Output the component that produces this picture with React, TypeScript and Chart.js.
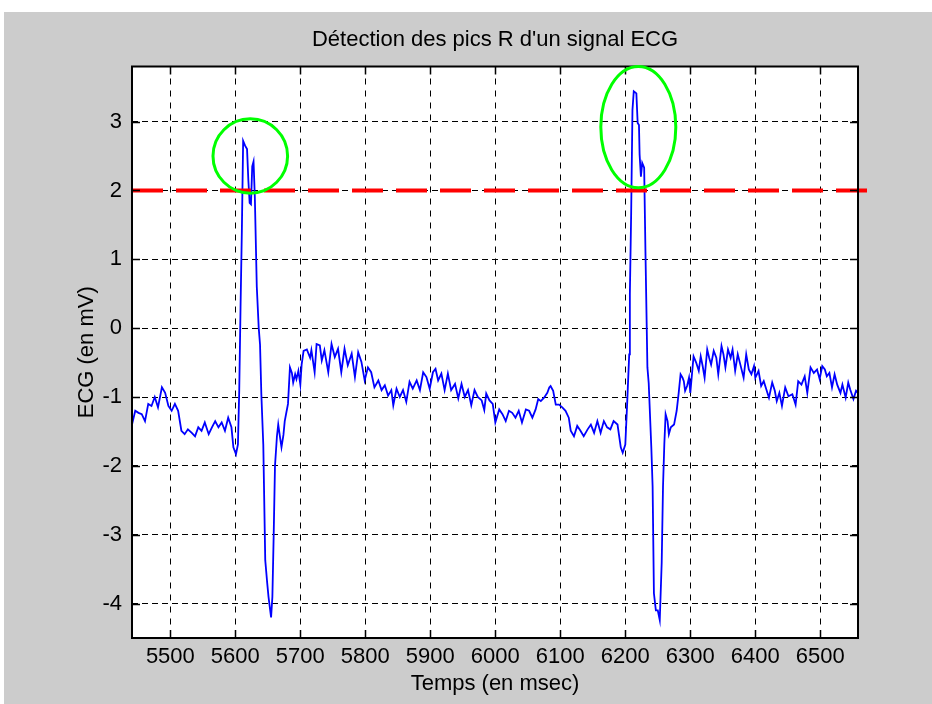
import { useEffect, useRef } from "react";
import { Chart, registerables } from "chart.js";

Chart.register(...registerables);

// ECG trace: sample times (ms) and amplitudes (mV)
const timeMs = [
  5441, 5446, 5451, 5456, 5461, 5466, 5471, 5476, 5481, 5487, 5492, 5497, 5502, 5507, 5512, 5517,
  5522, 5527, 5533, 5538, 5543, 5548, 5553, 5559, 5564, 5569, 5574, 5579, 5584, 5589, 5594, 5597,
  5601, 5604, 5606, 5608, 5610, 5612, 5615, 5618, 5620, 5622, 5624, 5626, 5628, 5630, 5633, 5636,
  5638, 5640, 5643, 5646, 5649, 5651, 5653, 5655, 5657, 5659, 5661, 5664, 5666, 5669, 5671, 5674,
  5676, 5679, 5681, 5684, 5687, 5689, 5692, 5694, 5697, 5700, 5702, 5705, 5710, 5715, 5717, 5722,
  5725, 5730, 5733, 5737, 5743, 5748, 5753, 5758, 5763, 5768, 5773, 5779, 5784, 5789, 5794, 5799,
  5804, 5809, 5814, 5820, 5825, 5830, 5835, 5840, 5843, 5848, 5853, 5858, 5863, 5868, 5873, 5879,
  5884, 5889, 5894, 5899, 5904, 5908, 5912, 5917, 5922, 5927, 5932, 5938, 5943, 5948, 5953, 5958,
  5963, 5968, 5973, 5979, 5983, 5986, 5991, 5996, 6000, 6006, 6011, 6016, 6021, 6026, 6031, 6036,
  6041, 6047, 6052, 6057, 6062, 6066, 6070, 6075, 6080, 6083, 6085, 6089, 6093, 6098, 6103, 6108,
  6113, 6116, 6121, 6126, 6131, 6136, 6142, 6147, 6152, 6157, 6162, 6167, 6172, 6177, 6182, 6188,
  6193, 6196, 6200, 6203, 6206, 6207, 6209, 6211, 6213, 6217, 6219, 6221, 6222, 6224, 6226, 6229,
  6231, 6234, 6236, 6240, 6242, 6244, 6247, 6250, 6253, 6256, 6258, 6260, 6262, 6265, 6267, 6270,
  6275, 6279, 6282, 6285, 6288, 6290, 6292, 6295, 6298, 6300, 6303, 6305, 6309, 6313, 6316, 6319,
  6322, 6326, 6329, 6332, 6336, 6340, 6343, 6348, 6351, 6354, 6358, 6362, 6365, 6369, 6373, 6377,
  6382, 6386, 6390, 6394, 6398, 6400, 6405, 6409, 6413, 6417, 6421, 6426, 6430, 6433, 6437, 6441,
  6446, 6451, 6457, 6462, 6466, 6471, 6476, 6480, 6485, 6490, 6495, 6499, 6503, 6507, 6510, 6514,
  6518, 6522, 6526, 6531, 6534, 6539, 6543, 6546, 6551, 6555, 6558,
];

const ecgMv = [
  -1.40, -1.20, -1.23, -1.25, -1.35, -1.10, -1.13, -1.00, -1.15, -0.86, -0.94, -1.13, -1.20, -1.10, -1.20, -1.49,
  -1.54, -1.47, -1.52, -1.57, -1.44, -1.49, -1.37, -1.54, -1.44, -1.35, -1.44, -1.37, -1.49, -1.30, -1.44, -1.73,
  -1.83, -1.69, -0.90, 0.30, 1.40, 2.72, 2.65, 2.60, 2.15, 1.82, 1.80, 2.35, 2.42, 1.90, 0.60, 0.00,
  -0.24, -0.96, -1.69, -3.37, -3.70, -3.90, -4.05, -4.20, -3.90, -3.00, -2.00, -1.57, -1.40, -1.60, -1.73, -1.55,
  -1.35, -1.20, -1.10, -0.57, -0.65, -0.79, -0.67, -0.74, -0.62, -0.82, -0.53, -0.33, -0.31, -0.43, -0.32, -0.64,
  -0.23, -0.25, -0.47, -0.32, -0.64, -0.23, -0.42, -0.30, -0.64, -0.30, -0.54, -0.37, -0.71, -0.35, -0.49, -0.76,
  -0.57, -0.64, -0.86, -0.76, -0.90, -0.83, -0.98, -0.90, -1.12, -0.88, -1.00, -0.90, -1.07, -0.78, -0.88, -0.76,
  -0.90, -0.64, -0.71, -0.88, -0.64, -0.59, -0.76, -0.66, -0.90, -0.66, -0.90, -0.81, -1.02, -0.81, -1.00, -0.90,
  -1.12, -0.90, -1.00, -1.05, -1.19, -0.95, -1.05, -1.10, -1.37, -1.18, -1.25, -1.35, -1.20, -1.23, -1.30, -1.20,
  -1.37, -1.18, -1.20, -1.30, -1.18, -1.03, -1.06, -1.01, -0.94, -0.86, -0.84, -0.91, -1.11, -1.11, -1.15, -1.20,
  -1.30, -1.49, -1.57, -1.42, -1.49, -1.57, -1.47, -1.40, -1.52, -1.35, -1.52, -1.35, -1.44, -1.47, -1.35, -1.40,
  -1.73, -1.81, -1.69, -1.06, -0.38, 0.50, 1.67, 3.17, 3.44, 3.41, 2.98, 2.95, 2.52, 2.20, 2.40, 2.33,
  1.10, -0.57, -0.80, -1.73, -2.30, -3.85, -4.10, -4.10, -4.24, -3.40, -2.30, -1.69, -1.25, -1.35, -1.54, -1.44,
  -1.40, -1.20, -0.95, -0.67, -0.72, -0.77, -0.91, -0.84, -0.72, -0.94, -0.62, -0.41, -0.50, -0.62, -0.41, -0.55,
  -0.72, -0.31, -0.43, -0.53, -0.33, -0.43, -0.67, -0.26, -0.38, -0.57, -0.31, -0.43, -0.31, -0.62, -0.38, -0.53,
  -0.72, -0.38, -0.60, -0.67, -0.55, -0.72, -0.62, -0.84, -0.77, -0.89, -1.01, -0.79, -0.91, -1.06, -0.94, -1.13,
  -0.86, -0.99, -0.96, -1.11, -0.77, -0.82, -0.70, -0.94, -0.57, -0.65, -0.60, -0.74, -0.55, -0.60, -0.70, -0.65,
  -0.86, -0.67, -0.82, -0.94, -0.82, -1.01, -0.79, -0.89, -1.03, -0.91, -0.94,
];

// Detection threshold (horizontal line at 2 mV)
const thresholdTime = [5441, 6574];
const thresholdMv = [2, 2];

// Detected R peaks, marked by ellipses (center and half-axes in data units)
const peakCenterMs = [5623, 6220];
const peakCenterMv = [2.5, 2.92];
const peakHalfWidthMs = [57.4, 57.7];
const peakHalfHeightMv = [0.54, 0.88];

// Axis ticks
const xTickValues = [5500, 5600, 5700, 5800, 5900, 6000, 6100, 6200, 6300, 6400, 6500];
const yTickValues = [-4, -3, -2, -1, 0, 1, 2, 3];

const FONT = "'Liberation Sans', Arial, Helvetica, sans-serif";
const FONT_SIZE = 22;

const framePlugin = {
  id: "matlabFrame",
  beforeDraw(chart: any) {
    const { ctx, width, height, chartArea } = chart;
    ctx.save();
    ctx.fillStyle = "#ffffff";
    ctx.fillRect(0, 0, width, height);
    ctx.fillStyle = "#cccccc";
    ctx.fillRect(4, 12, width - 4, height - 12);
    ctx.fillStyle = "#ffffff";
    ctx.fillRect(chartArea.left, chartArea.top, chartArea.right - chartArea.left, chartArea.bottom - chartArea.top);
    ctx.restore();
  },
  afterDatasetsDraw(chart: any) {
    const { ctx, chartArea } = chart;
    const xs = chart.scales.x;
    const ys = chart.scales.y;
    const { left, right, top, bottom } = chartArea;
    const tickLen = 8;
    ctx.save();
    // inward tick marks on all four sides
    ctx.strokeStyle = "#000000";
    ctx.lineWidth = 1.5;
    ctx.beginPath();
    for (const v of xTickValues) {
      const px = Math.round(xs.getPixelForValue(v)) + 0.5;
      ctx.moveTo(px, bottom);
      ctx.lineTo(px, bottom - tickLen);
      ctx.moveTo(px, top);
      ctx.lineTo(px, top + tickLen);
    }
    for (const v of yTickValues) {
      const py = Math.round(ys.getPixelForValue(v)) + 0.5;
      ctx.moveTo(left, py);
      ctx.lineTo(left + tickLen, py);
      ctx.moveTo(right, py);
      ctx.lineTo(right - tickLen, py);
    }
    ctx.stroke();
    // axes box
    ctx.lineWidth = 2;
    ctx.strokeRect(left, top, right - left, bottom - top);
    // ellipses around the detected peaks
    ctx.strokeStyle = "#00ff00";
    ctx.lineWidth = 3;
    for (let i = 0; i < peakCenterMs.length; i++) {
      const cx = xs.getPixelForValue(peakCenterMs[i]);
      const cy = ys.getPixelForValue(peakCenterMv[i]);
      const rx = Math.abs(xs.getPixelForValue(peakCenterMs[i] + peakHalfWidthMs[i]) - cx);
      const ry = Math.abs(ys.getPixelForValue(peakCenterMv[i] + peakHalfHeightMv[i]) - cy);
      ctx.beginPath();
      ctx.ellipse(cx, cy, rx, ry, 0, 0, Math.PI * 2);
      ctx.stroke();
    }
    ctx.restore();
  },
};

export default function App() {
  const canvasRef = useRef<HTMLCanvasElement>(null);

  useEffect(() => {
    const canvas = canvasRef.current;
    if (!canvas) return;

    const chart = new Chart(canvas, {
      type: "line",
      data: {
        datasets: [
          {
            label: "Seuil",
            data: thresholdTime.map((t, i) => ({ x: t, y: thresholdMv[i] })),
            borderColor: "#ff0000",
            borderWidth: 4,
            borderDash: [31, 13],
            pointRadius: 0,
            tension: 0,
            clip: false as any,
          },
          {
            label: "ECG",
            data: timeMs.map((t, i) => ({ x: t, y: ecgMv[i] })),
            borderColor: "#0000ff",
            borderWidth: 1.8,
            pointRadius: 0,
            tension: 0,
          },
        ],
      },
      options: {
        responsive: false,
        animation: false,
        events: [],
        layout: { padding: { left: 0, right: 74, top: 0, bottom: 0 } },
        plugins: {
          legend: { display: false },
          tooltip: { enabled: false },
          title: {
            display: true,
            fullSize: false,
            text: "Détection des pics R d'un signal ECG",
            color: "#000000",
            font: { family: FONT, size: FONT_SIZE, weight: "normal" },
            padding: { top: 26.8, bottom: 13.3 },
          },
        },
        scales: {
          x: {
            type: "linear",
            min: 5441,
            max: 6558,
            afterBuildTicks: (scale: any) => {
              scale.ticks = xTickValues.map((v) => ({ value: v }));
            },
            afterFit: (scale: any) => {
              scale.height = 66;
            },
            ticks: {
              color: "#000000",
              font: { family: FONT, size: FONT_SIZE },
              padding: 6,
              maxRotation: 0,
              autoSkip: false,
              callback: (v: any) => String(v),
            },
            grid: { color: "#000000", lineWidth: 1, drawTicks: false },
            border: { display: false, dash: [6, 6] },
            title: {
              display: true,
              text: "Temps (en msec)",
              color: "#000000",
              font: { family: FONT, size: FONT_SIZE },
              padding: { top: 0, bottom: 6.4 },
            },
          },
          y: {
            type: "linear",
            min: -4.5,
            max: 3.8,
            afterBuildTicks: (scale: any) => {
              scale.ticks = yTickValues.map((v) => ({ value: v }));
            },
            afterFit: (scale: any) => {
              scale.width = 132;
            },
            ticks: {
              color: "#000000",
              font: { family: FONT, size: FONT_SIZE },
              padding: 10,
              autoSkip: false,
              callback: (v: any) => String(v),
            },
            grid: { color: "#000000", lineWidth: 1, drawTicks: false },
            border: { display: false, dash: [6, 4] },
            title: {
              display: true,
              text: "ECG (en mV)",
              color: "#000000",
              font: { family: FONT, size: FONT_SIZE },
              padding: { top: 73.4, bottom: 0 },
            },
          },
        },
      },
      plugins: [framePlugin],
    });

    return () => chart.destroy();
  }, []);

  return (
    <div style={{ position: "absolute", left: 0, top: 0, width: 932, height: 704, background: "#ffffff" }}>
      <canvas ref={canvasRef} width={932} height={704} style={{ display: "block", width: 932, height: 704 }} />
    </div>
  );
}
